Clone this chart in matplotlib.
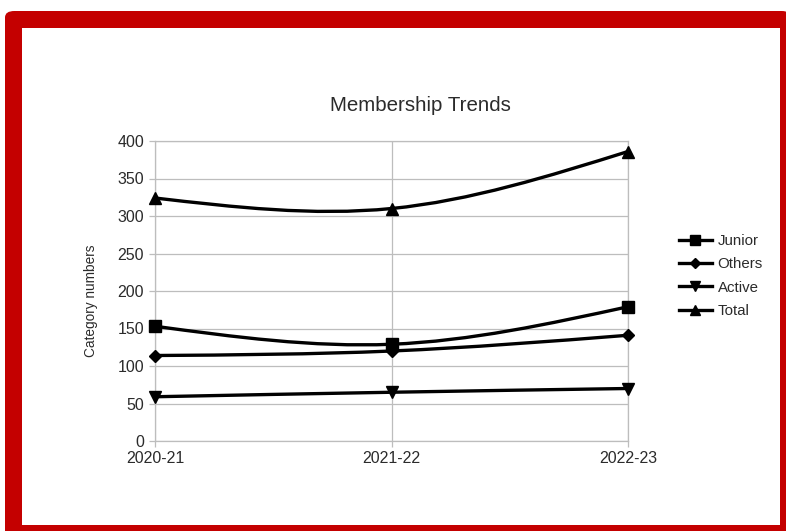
import matplotlib
matplotlib.use("Agg")
import matplotlib.pyplot as plt
from matplotlib.path import Path
from matplotlib.patches import PathPatch, FancyBboxPatch, Rectangle
from matplotlib.lines import Line2D

years = ["2020-21", "2021-22", "2022-23"]
junior = [153, 129, 179]
others = [114, 120, 141]
active = [59, 65, 70]
total = [324, 310, 386]

series = [("Junior", junior, "s", 9),
          ("Others", others, "D", 6.5),
          ("Active", active, "v", 8.5),
          ("Total", total, "^", 8.5)]

plt.rcParams['font.family'] = ['Liberation Sans', 'DejaVu Sans']

W, H = 786, 531
fig = plt.figure(figsize=(W / 100, H / 100), dpi=100)

# red frame
fig.patches.append(FancyBboxPatch((5 / W, -0.05), 1.0, (H - 11) / H + 0.05,
                                  boxstyle="round,pad=0,rounding_size=0.012",
                                  transform=fig.transFigure, facecolor="#c40000",
                                  edgecolor="none", zorder=0))
fig.patches.append(Rectangle((22 / W, (H - 525) / H), (780 - 22) / W, (525 - 28) / H,
                             transform=fig.transFigure, facecolor="white",
                             edgecolor="none", zorder=1))

ax = fig.add_axes([155 / W, (H - 441) / H, (628 - 155) / W, 300 / H])
ax.set_zorder(2)
ax.patch.set_alpha(0)


def smooth_path(xs, ys):
    # natural cubic spline through the points, drawn as bezier curves
    n = len(xs)
    m1 = 1.5 * (ys[0] - 2 * ys[1] + ys[2])
    d = [(ys[1] - ys[0]) - m1 / 6, (ys[1] - ys[0]) + m1 / 3, (ys[2] - ys[1]) + m1 / 6]
    verts = [(xs[0], ys[0])]
    codes = [Path.MOVETO]
    for i in range(n - 1):
        verts += [(xs[i] + 1 / 3, ys[i] + d[i] / 3),
                  (xs[i + 1] - 1 / 3, ys[i + 1] - d[i + 1] / 3),
                  (xs[i + 1], ys[i + 1])]
        codes += [Path.CURVE4] * 3
    return Path(verts, codes)


x = list(range(len(years)))
handles = []
for name, vals, mk, ms in series:
    ax.add_patch(PathPatch(smooth_path(x, vals), facecolor="none", edgecolor="black",
                           lw=2.4, zorder=3, clip_on=False))
    ax.plot(x, vals, linestyle="none", marker=mk, color="black", markersize=ms,
            zorder=4, clip_on=False)
    handles.append(Line2D([], [], color="black", lw=2.4, marker=mk,
                          markersize=ms * 0.8, label=name))

ax.set_xlim(0, 2)
ax.set_ylim(0, 400)
ax.set_yticks(range(0, 401, 50))
ax.set_xticks(x)
ax.set_xticklabels(years)
ax.grid(True, color="#bdbdbd", lw=0.9)
for s in ax.spines.values():
    s.set_color("#bdbdbd")
    s.set_linewidth(0.9)
ax.tick_params(colors="#bdbdbd", length=4, width=0.9, labelcolor="#2b2b2b",
               labelsize=11.5)
ax.tick_params(axis="y", pad=4)
ax.tick_params(axis="x", pad=3)

fig.text(91 / W, 1 - 301 / H, "Category numbers", rotation=90, ha="center",
         va="center", fontsize=9.8, color="#2b2b2b")

fig.text(420 / W, 1 - 105 / H, "Membership Trends", ha="center", va="center",
         fontsize=14.8, color="#2b2b2b")

fig.legend(handles=handles, loc="center left", bbox_to_anchor=(665 / W, 1 - 276 / H),
           frameon=False, fontsize=10.8, handlelength=2.2, handletextpad=0.4,
           labelspacing=0.62, labelcolor="#2b2b2b")

fig.savefig("out.png", dpi=100)
